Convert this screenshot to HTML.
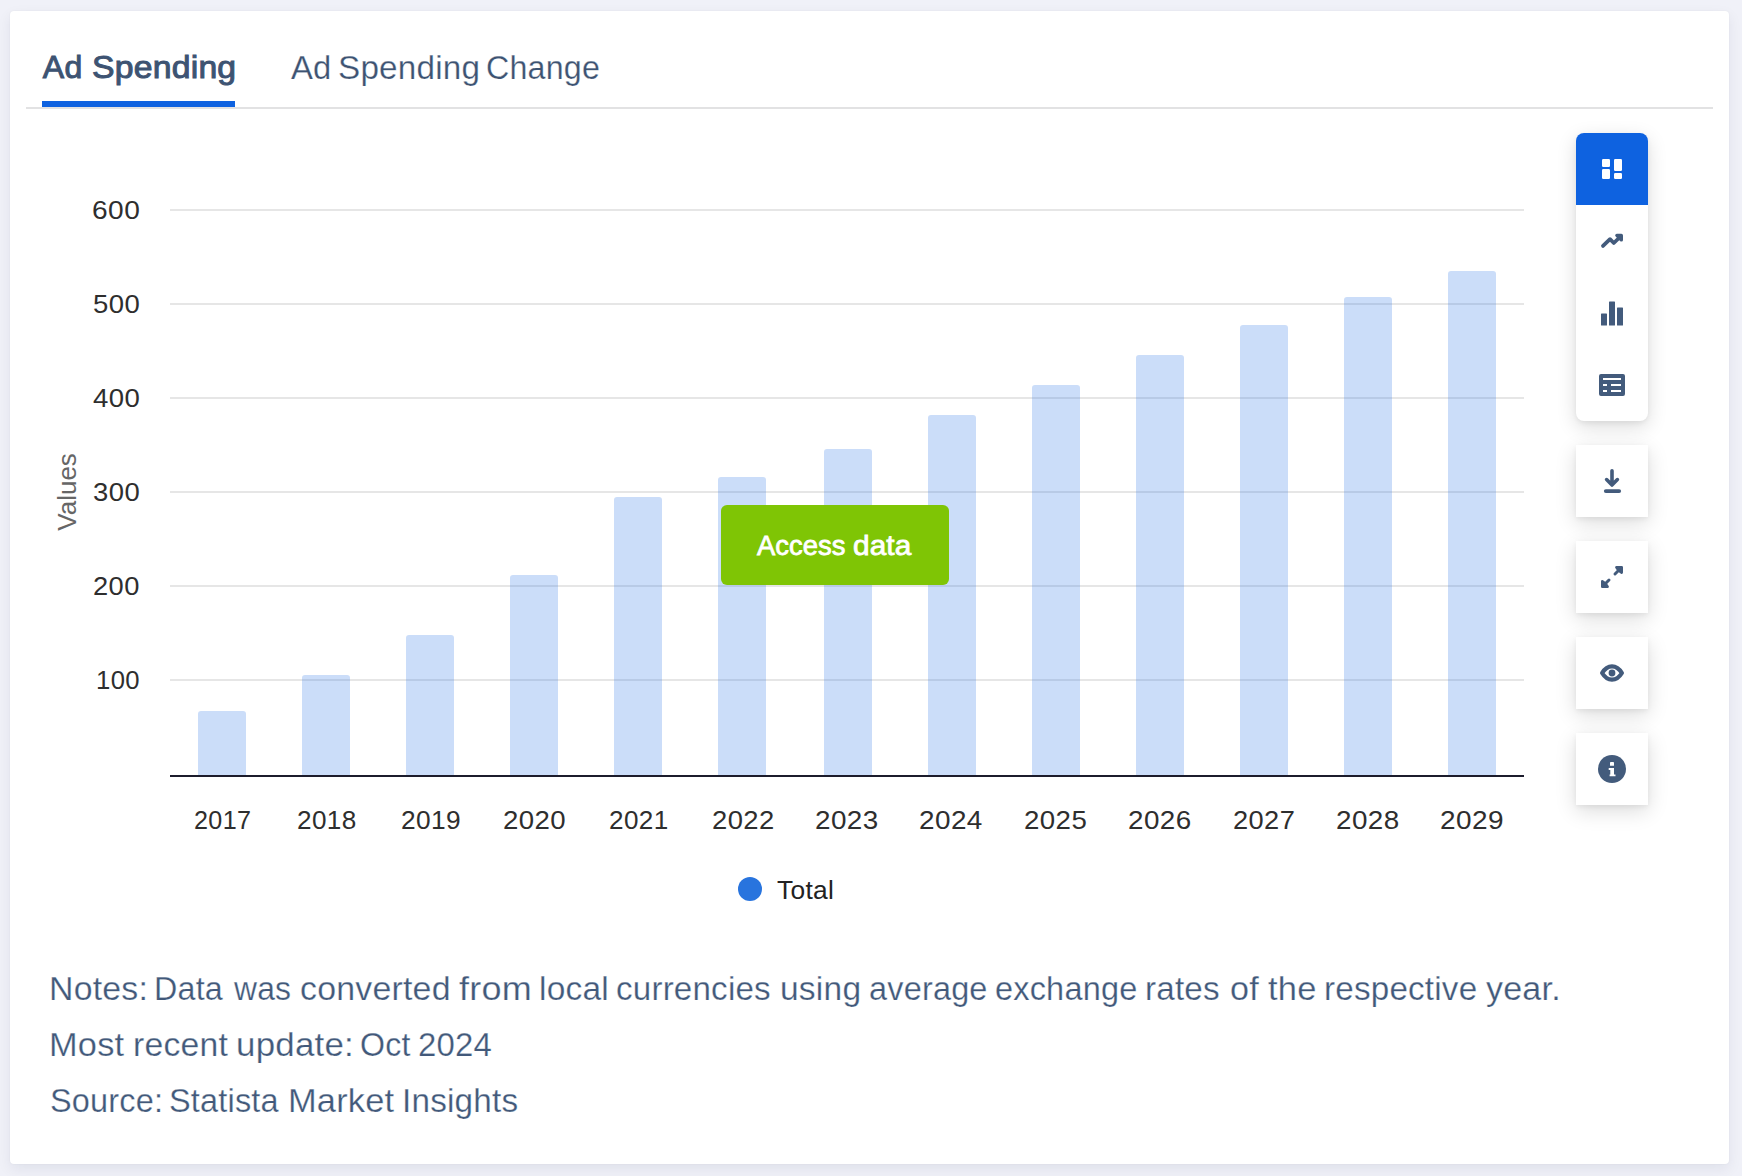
<!DOCTYPE html>
<html lang="en">
<head>
<meta charset="utf-8">
<title>Ad Spending</title>
<style>
*{box-sizing:border-box;margin:0;padding:0}
html,body{width:1742px;height:1176px;overflow:hidden}
body{background:#f0f1f8;font-family:"Liberation Sans",sans-serif;position:relative;color:#42597a}
.card{position:absolute;left:10px;top:11px;width:1719px;height:1153px;background:#fff;border-radius:4px;box-shadow:0 5px 14px rgba(20,30,70,.075),0 0 2px rgba(0,0,0,.06)}
.abs{position:absolute;white-space:nowrap}
.ln{position:absolute;left:0;width:1742px;white-space:nowrap}
.ln span{position:absolute;top:0;transform-origin:0 50%}
.tab{font-size:33px;color:#3d5372;top:50px;height:36px;line-height:36px;-webkit-text-stroke:0.25px #fff}
.tab.on{-webkit-text-stroke:1px #3d5372;font-size:32px;top:49px}
.tabline{position:absolute;left:26px;top:107px;width:1687px;height:2px;background:#e2e2e3}
.tabbar{position:absolute;left:42px;top:101px;width:193px;height:6px;background:#0e62e0}
.ax{font-size:26px;color:#2e2e2e;height:30px;line-height:30px}
.note{font-size:33px;color:#42597a;height:36px;line-height:36px;-webkit-text-stroke:0.25px #fff}
.grp{position:absolute;left:1576px;top:133px;width:72px;height:288px;background:#fff;border-radius:8px;box-shadow:0 6px 20px rgba(0,0,0,.14),0 2px 5px rgba(0,0,0,.06)}
.grp .act{position:absolute;left:0;top:0;width:72px;height:72px;background:#0e62e0;border-radius:8px 8px 0 0}
.btn{position:absolute;left:1576px;width:72px;height:72px;background:#fff;box-shadow:0 6px 20px rgba(0,0,0,.14),0 2px 5px rgba(0,0,0,.06)}
.access{position:absolute;left:721px;top:505px;width:228px;height:80px;background:#7fc505;border-radius:6px}
.acc{top:529px;height:32px;line-height:32px;color:#fff;font-size:28.500px;-webkit-text-stroke:.8px #fff}
svg{position:absolute;left:0;top:0;overflow:visible}
</style>
</head>
<body>
<div class="card"></div>

<div class="ln tab on"><span style="left:42.85px;letter-spacing:0.2px">Ad</span> <span style="left:91.75px;letter-spacing:0.2px;transform:scaleX(1.055)">Spending</span></div>
<div class="ln tab"><span style="left:291.2px;letter-spacing:0.2px;transform:scaleX(0.993)">Ad</span> <span style="left:338.29px;letter-spacing:0.2px;transform:scaleX(1.008)">Spending</span> <span style="left:485.99px;letter-spacing:0.2px;transform:scaleX(0.977)">Change</span></div>
<div class="tabline"></div>
<div class="tabbar"></div>

<svg width="1742" height="1176" viewBox="0 0 1742 1176">
  <g fill="#e6e6e6">
    <rect x="170" y="209" width="1354" height="2"/>
    <rect x="170" y="303" width="1354" height="2"/>
    <rect x="170" y="397" width="1354" height="2"/>
    <rect x="170" y="491" width="1354" height="2"/>
    <rect x="170" y="585" width="1354" height="2"/>
    <rect x="170" y="679" width="1354" height="2"/>
  </g>
  <g fill="#2e76e6" fill-opacity="0.25">
    <path d="M198 775V714a3 3 0 0 1 3-3h42a3 3 0 0 1 3 3V775z"/>
    <path d="M302 775V678a3 3 0 0 1 3-3h42a3 3 0 0 1 3 3V775z"/>
    <path d="M406 775V638a3 3 0 0 1 3-3h42a3 3 0 0 1 3 3V775z"/>
    <path d="M510 775V578a3 3 0 0 1 3-3h42a3 3 0 0 1 3 3V775z"/>
    <path d="M614 775V500a3 3 0 0 1 3-3h42a3 3 0 0 1 3 3V775z"/>
    <path d="M718 775V480a3 3 0 0 1 3-3h42a3 3 0 0 1 3 3V775z"/>
    <path d="M824 775V452a3 3 0 0 1 3-3h42a3 3 0 0 1 3 3V775z"/>
    <path d="M928 775V418a3 3 0 0 1 3-3h42a3 3 0 0 1 3 3V775z"/>
    <path d="M1032 775V388a3 3 0 0 1 3-3h42a3 3 0 0 1 3 3V775z"/>
    <path d="M1136 775V358a3 3 0 0 1 3-3h42a3 3 0 0 1 3 3V775z"/>
    <path d="M1240 775V328a3 3 0 0 1 3-3h42a3 3 0 0 1 3 3V775z"/>
    <path d="M1344 775V300a3 3 0 0 1 3-3h42a3 3 0 0 1 3 3V775z"/>
    <path d="M1448 775V274a3 3 0 0 1 3-3h42a3 3 0 0 1 3 3V775z"/>
  </g>
  <rect x="170" y="775" width="1354" height="2" fill="#1c1c2c"/>
  <circle cx="750" cy="889" r="12" fill="#2874de"/>
</svg>

<div class="ln ax" style="top:0"><span style="left:91.65px;letter-spacing:0.4px;top:195px;transform:scaleX(1.082)">600</span> <span style="left:92.64px;letter-spacing:0.4px;top:289px;transform:scaleX(1.059)">500</span> <span style="left:92.67px;letter-spacing:0.4px;top:383px;transform:scaleX(1.061)">400</span> <span style="left:92.74px;letter-spacing:0.4px;top:477px;transform:scaleX(1.057)">300</span> <span style="left:92.99px;letter-spacing:0.4px;top:571px;transform:scaleX(1.049)">200</span> <span style="left:95.52px;letter-spacing:0.4px;top:665px;transform:scaleX(0.988)">100</span></div>
<div class="ln ax" style="top:805px"><span style="left:193.69px;letter-spacing:0.4px;transform:scaleX(0.967)">2017</span> <span style="left:296.54px;letter-spacing:0.4px;transform:scaleX(1.005)">2018</span> <span style="left:400.54px;letter-spacing:0.4px;transform:scaleX(1.012)">2019</span> <span style="left:502.97px;letter-spacing:0.4px;transform:scaleX(1.062)">2020</span> <span style="left:609.44px;letter-spacing:0.4px;transform:scaleX(1.004)">2021</span> <span style="left:711.88px;letter-spacing:0.4px;transform:scaleX(1.054)">2022</span> <span style="left:815.46px;letter-spacing:0.4px;transform:scaleX(1.071)">2023</span> <span style="left:919.06px;letter-spacing:0.4px;transform:scaleX(1.073)">2024</span> <span style="left:1023.97px;letter-spacing:0.4px;transform:scaleX(1.063)">2025</span> <span style="left:1127.66px;letter-spacing:0.4px;transform:scaleX(1.069)">2026</span> <span style="left:1232.89px;letter-spacing:0.4px;transform:scaleX(1.047)">2027</span> <span style="left:1336.16px;letter-spacing:0.4px;transform:scaleX(1.069)">2028</span> <span style="left:1440.16px;letter-spacing:0.4px;transform:scaleX(1.075)">2029</span></div>
<div class="abs ax" style="left:0;top:0;color:#666;transform-origin:0 0;transform:translate(52.400px,530.700px) rotate(-90deg)">Values</div>
<div class="ln ax" style="top:874.500px;color:#222"><span style="left:776.69px;letter-spacing:0.3px;transform:scaleX(1.014)">Total</span></div>

<div class="access"></div>
<div class="ln acc"><span style="left:757.08px;letter-spacing:0.05px;transform:scaleX(0.96)">Access</span> <span style="left:853.42px;letter-spacing:0.1px;transform:scaleX(1.046)">data</span></div>

<div class="ln note" style="top:971px"><span style="left:49.38px;letter-spacing:0.2px;transform:scaleX(1.025)">Notes:</span> <span style="left:154.31px;letter-spacing:0.2px;transform:scaleX(0.978)">Data</span> <span style="left:234.1px;letter-spacing:0.2px;transform:scaleX(0.965)">was</span> <span style="left:299.66px;letter-spacing:0.2px;transform:scaleX(1.027)">converted</span> <span style="left:458.65px;letter-spacing:0.2px;transform:scaleX(1.092)">from</span> <span style="left:538.92px;letter-spacing:0.2px;transform:scaleX(1.016)">local</span> <span style="left:616.39px;letter-spacing:0.2px;transform:scaleX(1.004)">currencies</span> <span style="left:779.81px;letter-spacing:0.2px;transform:scaleX(1.017)">using</span> <span style="left:868.73px;letter-spacing:0.2px;transform:scaleX(0.983)">average</span> <span style="left:995.02px;letter-spacing:0.2px;transform:scaleX(0.984)">exchange</span> <span style="left:1145.14px;letter-spacing:0.2px;transform:scaleX(1.006)">rates</span> <span style="left:1229.55px;letter-spacing:0.2px;transform:scaleX(1.034)">of</span> <span style="left:1267.78px;letter-spacing:0.2px;transform:scaleX(1.045)">the</span> <span style="left:1324.24px;letter-spacing:0.2px;transform:scaleX(1.006)">respective</span> <span style="left:1485.74px;letter-spacing:0.2px;transform:scaleX(1.031)">year.</span></div>
<div class="ln note" style="top:1027px"><span style="left:49.34px;letter-spacing:0.2px;transform:scaleX(1.041)">Most</span> <span style="left:132.9px;letter-spacing:0.2px;transform:scaleX(1.022)">recent</span> <span style="left:235.82px;letter-spacing:0.2px;transform:scaleX(1.058)">update:</span> <span style="left:359.74px;letter-spacing:0.2px;transform:scaleX(0.973)">Oct</span> <span style="left:418.25px;letter-spacing:0.2px;transform:scaleX(0.998)">2024</span></div>
<div class="ln note" style="top:1083px"><span style="left:49.83px;letter-spacing:0.2px;transform:scaleX(0.983)">Source:</span> <span style="left:169.23px;letter-spacing:0.2px;transform:scaleX(0.983)">Statista</span> <span style="left:287.53px;letter-spacing:0.2px;transform:scaleX(1.042)">Market</span> <span style="left:402.08px;letter-spacing:0.2px;transform:scaleX(1.008)">Insights</span></div>

<div class="grp"><div class="act"></div></div>
<div class="btn" style="top:445px"></div>
<div class="btn" style="top:541px"></div>
<div class="btn" style="top:637px"></div>
<div class="btn" style="top:733px"></div>

<svg width="1742" height="1176" viewBox="0 0 1742 1176">
  <g fill="#fff">
    <rect x="1602" y="159" width="8" height="8" rx="1.2"/>
    <rect x="1602" y="169" width="8" height="10" rx="1.2"/>
    <rect x="1614" y="159" width="8" height="12" rx="1.2"/>
    <rect x="1614" y="173" width="8" height="6" rx="1.2"/>
  </g>
  <g fill="none" stroke="#435b7c" stroke-width="3.8" stroke-linecap="round" stroke-linejoin="round">
    <path d="M1603 245.900L1610 239.200L1613.800 243L1619.500 237.500"/>
  </g>
  <path d="M1616.800 235.400h4.600v4.600z" fill="#435b7c" stroke="#435b7c" stroke-width="3.200" stroke-linejoin="round"/>
  <g fill="#435b7c">
    <rect x="1601" y="313.500" width="6" height="12" rx=".6"/>
    <rect x="1609" y="301.500" width="6" height="24" rx=".6"/>
    <rect x="1617" y="307.500" width="6" height="18" rx=".6"/>
  </g>
  <path fill="#435b7c" fill-rule="evenodd" d="M1601 374h22a2 2 0 0 1 2 2v18a2 2 0 0 1-2 2h-22a2 2 0 0 1-2-2v-18a2 2 0 0 1 2-2zM1603 378v2h18v-2zM1603 384v2h4v-2zM1611 384v2h10v-2zM1603 390v2h4v-2zM1611 390v2h10v-2z"/>
  <g fill="none" stroke="#435b7c" stroke-width="3.600" stroke-linecap="round" stroke-linejoin="round">
    <path d="M1612 470.700V484.500M1606.600 479.600L1612 485L1617.400 479.600"/>
    <path d="M1605.800 491.100H1619.200" stroke-width="3.800"/>
  </g>
  <g fill="#435b7c" stroke="#435b7c" stroke-linejoin="round" stroke-linecap="round">
    <path d="M1616.400 567.300h5.300v5.300l-1.800-1.200l-2.300-2.300z" stroke-width="2.600"/>
    <path d="M1619 570L1615 574" stroke-width="3" fill="none"/>
    <path d="M1607.600 586.700h-5.300v-5.300l1.800 1.200l2.300 2.300z" stroke-width="2.600"/>
    <path d="M1605 584L1609 580" stroke-width="3" fill="none"/>
  </g>
  <path d="M1602.100 673c2.600-4.300 5.900-6.700 9.900-6.700s7.300 2.400 9.900 6.700c-2.600 4.300-5.900 6.700-9.900 6.700s-7.300-2.400-9.900-6.700z" fill="none" stroke="#435b7c" stroke-width="4.200" stroke-linejoin="round"/>
  <circle cx="1612" cy="673" r="3.400" fill="#435b7c"/>
  <circle cx="1612" cy="769" r="14" fill="#435b7c"/>
  <g fill="#fff">
    <rect x="1610" y="762" width="4" height="3.800" rx=".4"/>
    <path d="M1608.700 768.100h5.300v6.400h1.500v1.800h-5.900v-1.800h.7v-4.400h-1.600z"/>
  </g>
</svg>

</body>
</html>
